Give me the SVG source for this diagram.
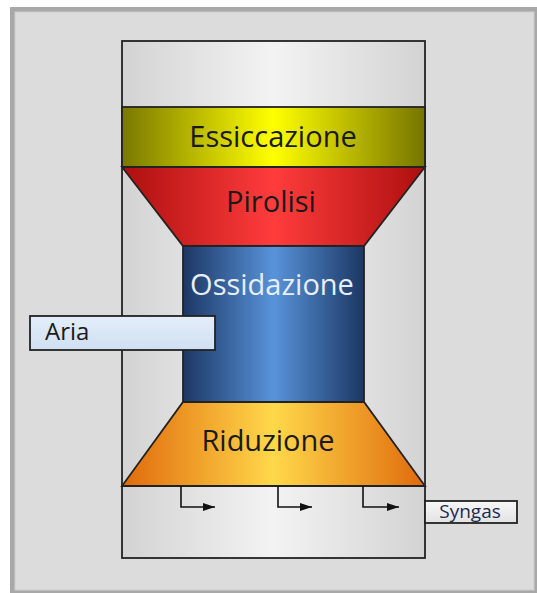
<svg xmlns="http://www.w3.org/2000/svg" width="537" height="593" viewBox="0 0 537 593">
<defs>
<linearGradient id="gVessel" x1="0" x2="1" y1="0" y2="0">
<stop offset="0" stop-color="#d3d3d3"/><stop offset="0.5" stop-color="#f3f3f3"/><stop offset="1" stop-color="#d3d3d3"/>
</linearGradient>
<linearGradient id="gYellow" x1="0" x2="1" y1="0" y2="0">
<stop offset="0" stop-color="#7a7800"/><stop offset="0.5" stop-color="#ffff00"/><stop offset="1" stop-color="#767400"/>
</linearGradient>
<linearGradient id="gRed" x1="0" x2="1" y1="0" y2="0">
<stop offset="0" stop-color="#ad0f0f"/><stop offset="0.5" stop-color="#ff3c3c"/><stop offset="1" stop-color="#ad0f0f"/>
</linearGradient>
<linearGradient id="gBlue" x1="0" x2="1" y1="0" y2="0">
<stop offset="0" stop-color="#1c3764"/><stop offset="0.5" stop-color="#5893da"/><stop offset="1" stop-color="#1c3764"/>
</linearGradient>
<linearGradient id="gOrange" x1="0" x2="1" y1="0" y2="0">
<stop offset="0" stop-color="#e06a0c"/><stop offset="0.5" stop-color="#ffd84a"/><stop offset="1" stop-color="#e06a0c"/>
</linearGradient>
<linearGradient id="gAria" x1="0" x2="0" y1="0" y2="1">
<stop offset="0" stop-color="#e4eefa"/><stop offset="1" stop-color="#cfdff2"/>
</linearGradient>
<linearGradient id="gSyn" x1="0" x2="0" y1="0" y2="1">
<stop offset="0" stop-color="#f8f8f8"/><stop offset="1" stop-color="#e2e2e2"/>
</linearGradient>
<marker id="arr" viewBox="0 0 12 8" refX="12" refY="4" markerWidth="13" markerHeight="8" markerUnits="userSpaceOnUse" orient="auto">
<path d="M0,0 L12,4 L0,8 Z" fill="#111"/>
</marker>
<style>
.ol{stroke:#222;stroke-width:1.8}
.lbl{font-family:"Open Sans","Liberation Sans",sans-serif;text-anchor:middle}
.small{font-family:"Open Sans","Liberation Sans",sans-serif}
.con{fill:none;stroke:#111;stroke-width:1.6}
</style>
</defs>
<g id="panel">
<rect x="10" y="7" width="527" height="586" fill="#a8a8a8"/>
<rect x="15" y="12" width="519" height="578" fill="#dcdcdc" stroke="#cdcdcd" stroke-width="1"/>
</g>
<g id="vessel">
<rect x="122" y="41" width="303" height="517" fill="url(#gVessel)" class="ol"/>
</g>
<g id="essiccazione">
<rect x="122" y="107" width="303" height="60" fill="url(#gYellow)" class="ol"/>
<text x="273" y="147" class="lbl" font-size="29" fill="#1a1a1a">Essiccazione</text>
</g>
<g id="pirolisi">
<polygon points="122,167 425,167 364,246 183,246" fill="url(#gRed)" class="ol"/>
<text x="271" y="212" class="lbl" font-size="29" fill="#1a1a1a">Pirolisi</text>
</g>
<g id="ossidazione">
<rect x="183" y="246" width="181" height="156" fill="url(#gBlue)" class="ol"/>
<text x="272" y="295" class="lbl" font-size="29" fill="#e8eef8">Ossidazione</text>
</g>
<g id="riduzione">
<polygon points="183,402 364,402 425,486 122,486" fill="url(#gOrange)" class="ol"/>
<text x="268" y="451" class="lbl" font-size="29" fill="#1a1a1a">Riduzione</text>
</g>
<g id="aria">
<rect x="30" y="316" width="185" height="34" fill="url(#gAria)" class="ol"/>
<text x="45" y="340" class="small" font-size="24" fill="#1a1a1a">Aria</text>
</g>
<g id="syngas">
<rect x="425" y="501" width="92" height="22" fill="url(#gSyn)" class="ol"/>
<text x="470" y="518" class="lbl" font-size="19" fill="#1a2a50">Syngas</text>
</g>
<g id="connectors">
<path d="M181,486 V507 H215" class="con" marker-end="url(#arr)"/>
<path d="M278,486 V507 H312" class="con" marker-end="url(#arr)"/>
<path d="M363,486 V507 H399" class="con" marker-end="url(#arr)"/>
</g>
</svg>
